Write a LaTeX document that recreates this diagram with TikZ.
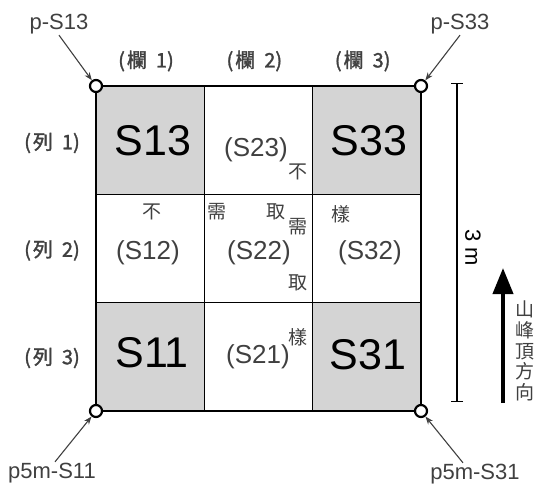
\documentclass[tikz,border=0pt]{standalone}
\usepackage{fontspec}
\setmainfont{Liberation Sans}
\newfontfamily\cjk{Noto Sans CJK TC}
\newfontfamily\cjkb[FakeBold=1.5]{Noto Sans CJK TC}
\usetikzlibrary{arrows.meta}
\definecolor{cellgray}{RGB}{212,212,212}
\definecolor{txtgray}{RGB}{64,64,64}

\begin{document}
\begin{tikzpicture}[x=1pt,y=-1pt,
    cellline/.style={line width=1.6pt},
    border/.style={line width=2.6pt},
    corner/.style={circle,draw,fill=white,line width=2.2pt,inner sep=0pt,minimum size=12pt},
    bigtag/.style={font=\fontsize{43}{43}\selectfont},
    smalltag/.style={text=txtgray,font=\fontsize{26}{26}\selectfont},
    headtag/.style={text=txtgray,font=\cjkb\fontsize{20}{20}\selectfont},
    pttag/.style={text=txtgray,font=\fontsize{22}{22}\selectfont,inner sep=1pt},
    ptr/.style={-{Stealth[length=8pt,width=6pt]},line width=1.1pt,txtgray},
    zhtag/.style={text=txtgray,font=\cjk\fontsize{19}{19}\selectfont}]

    \useasboundingbox (0,0) rectangle (541,491);

    % shaded corner cells
    \foreach \cx/\cy in {0/0,2/0,0/2,2/2}
        \fill[cellgray] ({96+108.33*\cx},{86+108.33*\cy}) rectangle ++(108.33,108.33);

    \foreach \i in {1,2} {
        \draw[cellline] ({96+108.33*\i},86) -- ({96+108.33*\i},411);
        \draw[cellline] (96,{86+108.33*\i}) -- (421,{86+108.33*\i});
    }
    \draw[border] (96,86) rectangle (421,411);

    \node[corner] (c13) at (96,86) {};
    \node[corner] (c33) at (421,86) {};
    \node[corner] (c11) at (96,411) {};
    \node[corner] (c31) at (421,411) {};

    % headers
    \foreach \n in {1,2,3} {
        \node[headtag] (col\n) at ({146+108.33*(\n-1)},61) {(\hspace{2pt}欄\hspace{9pt}\n)};
        \node[headtag] (row\n) at (52,{143+107.5*(\n-1)}) {(\hspace{2pt}列\hspace{9pt}\n)};
    }

    \node[bigtag] (S13) at (153,141) {S13};
    \node[bigtag] (S33) at (369,141) {S33};
    \node[bigtag] (S11) at (152,353) {S11};
    \node[bigtag] (S31) at (368,355) {S31};

    \node[smalltag] (S23) at (256,150) {(S23)};
    \node[smalltag] (S12) at (148,253) {(S12)};
    \node[smalltag] (S22) at (259,253) {(S22)};
    \node[smalltag] (S32) at (370,253) {(S32)};
    \node[smalltag] (S21) at (258,357) {(S21)};

    % no sampling
    \node[zhtag] (zhA) at (152,212) {不};
    \node[zhtag] (zhB) at (217,212) {需};
    \node[zhtag] (zhC) at (276,212) {取};
    \node[zhtag] (zhD) at (341,214) {樣};
    \foreach \c/\y [count=\k] in {不/172,需/227,取/283,樣/337}
        \node[zhtag] (zv\k) at (298,\y) {\c};

    % width
    \coordinate (dimtop) at (457,83);
    \coordinate (dimbot) at (457,402);
    \draw[{Bar[width=12pt]}-{Bar[width=12pt]}, line width=1.4pt] (dimtop) -- (dimbot);
    \node[rotate=-90, font=\fontsize{22}{22}\selectfont] (dimtxt) at (473,248) {3 m};

    % uphill
    \coordinate (uptail) at (503,403);
    \coordinate (uphead) at (503,268);
    \draw[-{Triangle[length=26pt,width=20pt]}, line width=4pt] (uptail) -- (uphead);
    \node[text=txtgray, font=\cjk\fontsize{19}{20.6}\selectfont, align=center, inner sep=0pt] (peak)
        at (525,351) {山\\峰\\頂\\方\\向};

    \node[pttag] (lp13) at (59,24) {p-S13};
    \node[pttag] (lp33) at (460,24) {p-S33};
    \node[pttag] (lp11) at (52,473) {p5m-S11};
    \node[pttag] (lp31) at (475,474) {p5m-S31};
    \draw[ptr] (lp13.south) -- (c13);
    \draw[ptr] (lp33.south) -- (c33);
    \draw[ptr] ([xshift=3pt]lp11.north) -- (c11);
    \draw[ptr] ([xshift=-12pt]lp31.north) -- (c31);
\end{tikzpicture}
\end{document}
